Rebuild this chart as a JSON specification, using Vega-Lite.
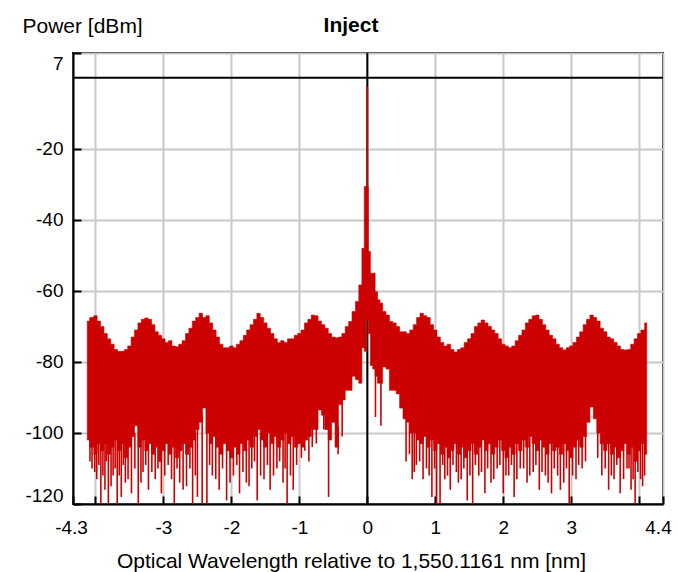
{
  "$schema": "https://vega.github.io/schema/vega-lite/v6.json",
  "width": 590,
  "height": 451,
  "autosize": "none",
  "padding": {"left": 73, "top": 53, "right": 16, "bottom": 68},
  "background": "white",
  "title": {
    "text": "Inject",
    "font": "Liberation Sans",
    "fontSize": 21,
    "fontWeight": "bold",
    "color": "black",
    "anchor": "middle",
    "frame": "group",
    "dx": -17,
    "baseline": "alphabetic",
    "offset": -38
  },
  "config": {
    "view": {"stroke": "black", "strokeWidth": 2},
    "font": "Liberation Sans",
    "axis": {
      "domainColor": "black",
      "domainWidth": 2,
      "tickColor": "black",
      "tickWidth": 2,
      "tickSize": -8,
      "gridColor": "#c8c8c8",
      "gridWidth": 2,
      "labelColor": "black",
      "labelFontSize": 19,
      "labelOverlap": false,
      "labelFlush": false,
      "labelBound": false,
      "titleColor": "black",
      "titleFontSize": 21,
      "titleFontWeight": "normal"
    }
  },
  "datasets": {
    "body": [
      {"x": -4.12, "hi": -68.5, "lo": -102},
      {"x": -4.05, "hi": -67.5, "lo": -104},
      {"x": -4.00, "hi": -67.0, "lo": -106},
      {"x": -3.95, "hi": -68.5, "lo": -103},
      {"x": -3.90, "hi": -70.0, "lo": -105},
      {"x": -3.85, "hi": -72.0, "lo": -103},
      {"x": -3.80, "hi": -73.5, "lo": -106},
      {"x": -3.75, "hi": -75.0, "lo": -104},
      {"x": -3.70, "hi": -76.5, "lo": -102},
      {"x": -3.65, "hi": -77.0, "lo": -105},
      {"x": -3.60, "hi": -77.0, "lo": -103},
      {"x": -3.55, "hi": -76.5, "lo": -107},
      {"x": -3.50, "hi": -75.5, "lo": -104},
      {"x": -3.45, "hi": -73.0, "lo": -101},
      {"x": -3.40, "hi": -71.0, "lo": -98},
      {"x": -3.35, "hi": -69.0, "lo": -104},
      {"x": -3.30, "hi": -68.0, "lo": -102},
      {"x": -3.25, "hi": -67.6, "lo": -105},
      {"x": -3.20, "hi": -68.0, "lo": -103},
      {"x": -3.15, "hi": -69.5, "lo": -106},
      {"x": -3.10, "hi": -71.5, "lo": -104},
      {"x": -3.05, "hi": -72.5, "lo": -108},
      {"x": -3.00, "hi": -73.5, "lo": -105},
      {"x": -2.95, "hi": -74.5, "lo": -103},
      {"x": -2.90, "hi": -74.0, "lo": -106},
      {"x": -2.85, "hi": -75.5, "lo": -104},
      {"x": -2.80, "hi": -75.7, "lo": -107},
      {"x": -2.75, "hi": -75.0, "lo": -105},
      {"x": -2.70, "hi": -74.0, "lo": -103},
      {"x": -2.65, "hi": -72.0, "lo": -106},
      {"x": -2.60, "hi": -70.5, "lo": -104},
      {"x": -2.55, "hi": -68.5, "lo": -102},
      {"x": -2.50, "hi": -67.5, "lo": -99},
      {"x": -2.45, "hi": -66.3, "lo": -97},
      {"x": -2.40, "hi": -67.5, "lo": -93},
      {"x": -2.35, "hi": -67.0, "lo": -100},
      {"x": -2.30, "hi": -69.0, "lo": -103},
      {"x": -2.25, "hi": -71.0, "lo": -101},
      {"x": -2.20, "hi": -73.0, "lo": -104},
      {"x": -2.15, "hi": -75.0, "lo": -106},
      {"x": -2.10, "hi": -76.0, "lo": -103},
      {"x": -2.05, "hi": -76.0, "lo": -105},
      {"x": -2.00, "hi": -75.5, "lo": -107},
      {"x": -1.95, "hi": -76.0, "lo": -104},
      {"x": -1.90, "hi": -75.0, "lo": -106},
      {"x": -1.85, "hi": -74.0, "lo": -103},
      {"x": -1.80, "hi": -72.5, "lo": -105},
      {"x": -1.75, "hi": -71.0, "lo": -102},
      {"x": -1.70, "hi": -69.5, "lo": -104},
      {"x": -1.65, "hi": -68.0, "lo": -101},
      {"x": -1.60, "hi": -66.3, "lo": -99},
      {"x": -1.55, "hi": -67.5, "lo": -102},
      {"x": -1.50, "hi": -69.0, "lo": -104},
      {"x": -1.45, "hi": -70.5, "lo": -100},
      {"x": -1.40, "hi": -72.0, "lo": -103},
      {"x": -1.35, "hi": -73.5, "lo": -101},
      {"x": -1.30, "hi": -74.5, "lo": -104},
      {"x": -1.25, "hi": -74.0, "lo": -102},
      {"x": -1.20, "hi": -74.5, "lo": -100},
      {"x": -1.15, "hi": -73.5, "lo": -103},
      {"x": -1.10, "hi": -73.5, "lo": -101},
      {"x": -1.05, "hi": -72.5, "lo": -104},
      {"x": -1.00, "hi": -72.0, "lo": -103},
      {"x": -0.95, "hi": -71.0, "lo": -104},
      {"x": -0.90, "hi": -69.0, "lo": -102},
      {"x": -0.85, "hi": -68.0, "lo": -101},
      {"x": -0.80, "hi": -66.8, "lo": -99},
      {"x": -0.75, "hi": -67.0, "lo": -99},
      {"x": -0.70, "hi": -68.5, "lo": -93.5},
      {"x": -0.65, "hi": -69.5, "lo": -95},
      {"x": -0.60, "hi": -70.5, "lo": -99},
      {"x": -0.55, "hi": -72.0, "lo": -102},
      {"x": -0.50, "hi": -73.0, "lo": -97},
      {"x": -0.45, "hi": -73.2, "lo": -104},
      {"x": -0.40, "hi": -73.0, "lo": -92},
      {"x": -0.35, "hi": -72.0, "lo": -90.7},
      {"x": -0.30, "hi": -70.0, "lo": -88},
      {"x": -0.25, "hi": -68.6, "lo": -88},
      {"x": -0.20, "hi": -65.8, "lo": -84},
      {"x": -0.15, "hi": -63.0, "lo": -85},
      {"x": -0.10, "hi": -58.3, "lo": -86},
      {"x": -0.06, "hi": -48.0, "lo": -76},
      {"x": -0.03, "hi": -30.6, "lo": -77},
      {"x": 0.00, "hi": -30.6, "lo": -68},
      {"x": 0.03, "hi": -48.9, "lo": -72},
      {"x": 0.06, "hi": -55.0, "lo": -81},
      {"x": 0.10, "hi": -55.0, "lo": -82},
      {"x": 0.13, "hi": -60.2, "lo": -84},
      {"x": 0.17, "hi": -62.5, "lo": -86},
      {"x": 0.20, "hi": -63.4, "lo": -86},
      {"x": 0.25, "hi": -65.8, "lo": -81.4},
      {"x": 0.30, "hi": -66.8, "lo": -82},
      {"x": 0.35, "hi": -68.6, "lo": -88},
      {"x": 0.40, "hi": -69.0, "lo": -88},
      {"x": 0.45, "hi": -70.0, "lo": -89},
      {"x": 0.50, "hi": -71.5, "lo": -93},
      {"x": 0.55, "hi": -71.5, "lo": -96},
      {"x": 0.60, "hi": -72.0, "lo": -97},
      {"x": 0.65, "hi": -71.0, "lo": -100},
      {"x": 0.70, "hi": -69.5, "lo": -100},
      {"x": 0.75, "hi": -67.5, "lo": -102},
      {"x": 0.80, "hi": -66.3, "lo": -103},
      {"x": 0.85, "hi": -67.0, "lo": -101},
      {"x": 0.90, "hi": -67.5, "lo": -104},
      {"x": 0.95, "hi": -69.5, "lo": -102},
      {"x": 1.00, "hi": -71.0, "lo": -105},
      {"x": 1.05, "hi": -73.0, "lo": -103},
      {"x": 1.10, "hi": -74.5, "lo": -106},
      {"x": 1.15, "hi": -75.5, "lo": -104},
      {"x": 1.20, "hi": -75.0, "lo": -107},
      {"x": 1.25, "hi": -76.5, "lo": -105},
      {"x": 1.30, "hi": -77.2, "lo": -103},
      {"x": 1.35, "hi": -76.5, "lo": -106},
      {"x": 1.40, "hi": -76.0, "lo": -104},
      {"x": 1.45, "hi": -74.5, "lo": -107},
      {"x": 1.50, "hi": -73.5, "lo": -105},
      {"x": 1.55, "hi": -72.0, "lo": -103},
      {"x": 1.60, "hi": -70.0, "lo": -106},
      {"x": 1.65, "hi": -69.0, "lo": -104},
      {"x": 1.70, "hi": -68.2, "lo": -102},
      {"x": 1.75, "hi": -69.0, "lo": -105},
      {"x": 1.80, "hi": -70.0, "lo": -103},
      {"x": 1.85, "hi": -71.0, "lo": -106},
      {"x": 1.90, "hi": -72.0, "lo": -104},
      {"x": 1.95, "hi": -73.5, "lo": -102},
      {"x": 2.00, "hi": -75.0, "lo": -105},
      {"x": 2.05, "hi": -75.5, "lo": -107},
      {"x": 2.10, "hi": -76.0, "lo": -104},
      {"x": 2.15, "hi": -75.5, "lo": -106},
      {"x": 2.20, "hi": -74.0, "lo": -103},
      {"x": 2.25, "hi": -72.5, "lo": -105},
      {"x": 2.30, "hi": -71.0, "lo": -102},
      {"x": 2.35, "hi": -69.0, "lo": -104},
      {"x": 2.40, "hi": -68.0, "lo": -101},
      {"x": 2.45, "hi": -67.0, "lo": -103},
      {"x": 2.50, "hi": -66.8, "lo": -105},
      {"x": 2.55, "hi": -68.0, "lo": -102},
      {"x": 2.60, "hi": -69.5, "lo": -104},
      {"x": 2.65, "hi": -71.0, "lo": -106},
      {"x": 2.70, "hi": -72.5, "lo": -103},
      {"x": 2.75, "hi": -73.5, "lo": -105},
      {"x": 2.80, "hi": -75.0, "lo": -104},
      {"x": 2.85, "hi": -76.0, "lo": -106},
      {"x": 2.90, "hi": -76.6, "lo": -103},
      {"x": 2.95, "hi": -76.0, "lo": -105},
      {"x": 3.00, "hi": -75.5, "lo": -107},
      {"x": 3.05, "hi": -74.5, "lo": -104},
      {"x": 3.10, "hi": -73.0, "lo": -102},
      {"x": 3.15, "hi": -71.5, "lo": -104},
      {"x": 3.20, "hi": -69.5, "lo": -101},
      {"x": 3.25, "hi": -68.0, "lo": -97},
      {"x": 3.30, "hi": -66.8, "lo": -92.7},
      {"x": 3.35, "hi": -67.5, "lo": -96},
      {"x": 3.40, "hi": -68.5, "lo": -100},
      {"x": 3.45, "hi": -70.5, "lo": -103},
      {"x": 3.50, "hi": -71.5, "lo": -105},
      {"x": 3.55, "hi": -73.0, "lo": -103},
      {"x": 3.60, "hi": -73.5, "lo": -106},
      {"x": 3.65, "hi": -74.5, "lo": -104},
      {"x": 3.70, "hi": -75.5, "lo": -107},
      {"x": 3.75, "hi": -76.5, "lo": -105},
      {"x": 3.80, "hi": -76.6, "lo": -103},
      {"x": 3.85, "hi": -76.5, "lo": -106},
      {"x": 3.90, "hi": -75.0, "lo": -104},
      {"x": 3.95, "hi": -73.5, "lo": -108},
      {"x": 4.00, "hi": -72.0, "lo": -105},
      {"x": 4.05, "hi": -71.0, "lo": -103},
      {"x": 4.11, "hi": -69.0, "lo": -106}
    ],
    "spikes": [
      {"x": -4.08, "hi": -100, "lo": -108},
      {"x": -4.05, "hi": -98, "lo": -110},
      {"x": -4.01, "hi": -100, "lo": -111},
      {"x": -3.98, "hi": -98, "lo": -113},
      {"x": -3.95, "hi": -100, "lo": -109},
      {"x": -3.92, "hi": -98, "lo": -120},
      {"x": -3.89, "hi": -100, "lo": -112},
      {"x": -3.86, "hi": -98, "lo": -116},
      {"x": -3.84, "hi": -100, "lo": -108},
      {"x": -3.81, "hi": -98, "lo": -120},
      {"x": -3.77, "hi": -100, "lo": -115},
      {"x": -3.74, "hi": -98, "lo": -112},
      {"x": -3.71, "hi": -100, "lo": -110},
      {"x": -3.68, "hi": -98, "lo": -120},
      {"x": -3.65, "hi": -100, "lo": -112},
      {"x": -3.62, "hi": -98, "lo": -118},
      {"x": -3.59, "hi": -100, "lo": -109},
      {"x": -3.56, "hi": -98, "lo": -114},
      {"x": -3.52, "hi": -100, "lo": -113},
      {"x": -3.47, "hi": -98, "lo": -117},
      {"x": -3.42, "hi": -100, "lo": -110},
      {"x": -3.37, "hi": -98, "lo": -120},
      {"x": -3.33, "hi": -100, "lo": -114},
      {"x": -3.30, "hi": -98, "lo": -111},
      {"x": -3.26, "hi": -100, "lo": -109},
      {"x": -3.22, "hi": -98, "lo": -116},
      {"x": -3.17, "hi": -100, "lo": -111},
      {"x": -3.12, "hi": -98, "lo": -113},
      {"x": -3.08, "hi": -100, "lo": -110},
      {"x": -3.03, "hi": -98, "lo": -117},
      {"x": -2.98, "hi": -100, "lo": -112},
      {"x": -2.93, "hi": -98, "lo": -109},
      {"x": -2.88, "hi": -100, "lo": -113},
      {"x": -2.84, "hi": -98, "lo": -120},
      {"x": -2.80, "hi": -100, "lo": -110},
      {"x": -2.76, "hi": -98, "lo": -114},
      {"x": -2.71, "hi": -100, "lo": -116},
      {"x": -2.66, "hi": -98, "lo": -115},
      {"x": -2.61, "hi": -100, "lo": -110},
      {"x": -2.57, "hi": -98, "lo": -120},
      {"x": -2.53, "hi": -100, "lo": -112},
      {"x": -2.50, "hi": -98, "lo": -118},
      {"x": -2.43, "hi": -95, "lo": -120},
      {"x": -2.36, "hi": -98, "lo": -120},
      {"x": -2.32, "hi": -100, "lo": -109},
      {"x": -2.28, "hi": -98, "lo": -112},
      {"x": -2.23, "hi": -100, "lo": -113},
      {"x": -2.18, "hi": -98, "lo": -116},
      {"x": -2.13, "hi": -100, "lo": -110},
      {"x": -2.07, "hi": -98, "lo": -119},
      {"x": -2.02, "hi": -100, "lo": -114},
      {"x": -1.97, "hi": -98, "lo": -112},
      {"x": -1.92, "hi": -100, "lo": -109},
      {"x": -1.88, "hi": -98, "lo": -117},
      {"x": -1.83, "hi": -100, "lo": -111},
      {"x": -1.78, "hi": -98, "lo": -114},
      {"x": -1.74, "hi": -100, "lo": -115},
      {"x": -1.70, "hi": -98, "lo": -110},
      {"x": -1.66, "hi": -100, "lo": -108},
      {"x": -1.62, "hi": -98, "lo": -119},
      {"x": -1.57, "hi": -100, "lo": -112},
      {"x": -1.52, "hi": -98, "lo": -113},
      {"x": -1.47, "hi": -100, "lo": -109},
      {"x": -1.43, "hi": -98, "lo": -116},
      {"x": -1.38, "hi": -100, "lo": -112},
      {"x": -1.33, "hi": -98, "lo": -110},
      {"x": -1.29, "hi": -100, "lo": -108},
      {"x": -1.24, "hi": -98, "lo": -114},
      {"x": -1.21, "hi": -100, "lo": -110},
      {"x": -1.18, "hi": -98, "lo": -120},
      {"x": -1.13, "hi": -100, "lo": -112},
      {"x": -1.09, "hi": -98, "lo": -116},
      {"x": -1.04, "hi": -100, "lo": -109},
      {"x": -0.97, "hi": -98, "lo": -107},
      {"x": -0.92, "hi": -100, "lo": -105},
      {"x": -0.86, "hi": -98, "lo": -108},
      {"x": -0.81, "hi": -98, "lo": -104},
      {"x": -0.75, "hi": -98, "lo": -103},
      {"x": -0.64, "hi": -94, "lo": -99},
      {"x": -0.57, "hi": -98, "lo": -118},
      {"x": -0.43, "hi": -98, "lo": -106},
      {"x": -0.37, "hi": -90, "lo": -101},
      {"x": 0.12, "hi": -82, "lo": -95.5},
      {"x": 0.20, "hi": -85, "lo": -98},
      {"x": 0.57, "hi": -95, "lo": -108},
      {"x": 0.62, "hi": -97, "lo": -106},
      {"x": 0.66, "hi": -98, "lo": -113},
      {"x": 0.69, "hi": -100, "lo": -111},
      {"x": 0.72, "hi": -98, "lo": -109},
      {"x": 0.77, "hi": -100, "lo": -108},
      {"x": 0.82, "hi": -98, "lo": -113},
      {"x": 0.87, "hi": -100, "lo": -110},
      {"x": 0.91, "hi": -100, "lo": -112},
      {"x": 0.95, "hi": -98, "lo": -118},
      {"x": 0.99, "hi": -100, "lo": -110},
      {"x": 1.02, "hi": -98, "lo": -120},
      {"x": 1.07, "hi": -98, "lo": -120},
      {"x": 1.11, "hi": -100, "lo": -109},
      {"x": 1.14, "hi": -98, "lo": -113},
      {"x": 1.18, "hi": -100, "lo": -112},
      {"x": 1.22, "hi": -98, "lo": -116},
      {"x": 1.26, "hi": -100, "lo": -109},
      {"x": 1.31, "hi": -98, "lo": -111},
      {"x": 1.34, "hi": -100, "lo": -114},
      {"x": 1.38, "hi": -98, "lo": -113},
      {"x": 1.42, "hi": -100, "lo": -110},
      {"x": 1.47, "hi": -98, "lo": -119},
      {"x": 1.51, "hi": -100, "lo": -112},
      {"x": 1.55, "hi": -98, "lo": -120},
      {"x": 1.59, "hi": -100, "lo": -109},
      {"x": 1.64, "hi": -98, "lo": -112},
      {"x": 1.68, "hi": -100, "lo": -111},
      {"x": 1.73, "hi": -98, "lo": -117},
      {"x": 1.77, "hi": -100, "lo": -110},
      {"x": 1.82, "hi": -98, "lo": -114},
      {"x": 1.86, "hi": -100, "lo": -113},
      {"x": 1.91, "hi": -98, "lo": -110},
      {"x": 1.95, "hi": -100, "lo": -109},
      {"x": 2.00, "hi": -98, "lo": -117},
      {"x": 2.04, "hi": -100, "lo": -112},
      {"x": 2.08, "hi": -98, "lo": -112},
      {"x": 2.12, "hi": -100, "lo": -109},
      {"x": 2.16, "hi": -98, "lo": -118},
      {"x": 2.20, "hi": -100, "lo": -113},
      {"x": 2.25, "hi": -98, "lo": -110},
      {"x": 2.30, "hi": -100, "lo": -110},
      {"x": 2.35, "hi": -98, "lo": -114},
      {"x": 2.39, "hi": -100, "lo": -112},
      {"x": 2.44, "hi": -98, "lo": -111},
      {"x": 2.48, "hi": -100, "lo": -109},
      {"x": 2.53, "hi": -98, "lo": -116},
      {"x": 2.57, "hi": -100, "lo": -111},
      {"x": 2.62, "hi": -98, "lo": -112},
      {"x": 2.66, "hi": -100, "lo": -114},
      {"x": 2.71, "hi": -98, "lo": -117},
      {"x": 2.75, "hi": -100, "lo": -110},
      {"x": 2.80, "hi": -98, "lo": -112},
      {"x": 2.84, "hi": -100, "lo": -116},
      {"x": 2.89, "hi": -98, "lo": -114},
      {"x": 2.93, "hi": -100, "lo": -110},
      {"x": 2.97, "hi": -98, "lo": -120},
      {"x": 3.02, "hi": -100, "lo": -112},
      {"x": 3.07, "hi": -98, "lo": -113},
      {"x": 3.11, "hi": -100, "lo": -109},
      {"x": 3.16, "hi": -98, "lo": -110},
      {"x": 3.21, "hi": -100, "lo": -108},
      {"x": 3.39, "hi": -100, "lo": -107},
      {"x": 3.45, "hi": -98, "lo": -112},
      {"x": 3.50, "hi": -100, "lo": -110},
      {"x": 3.55, "hi": -98, "lo": -116},
      {"x": 3.59, "hi": -100, "lo": -112},
      {"x": 3.63, "hi": -98, "lo": -113},
      {"x": 3.67, "hi": -100, "lo": -109},
      {"x": 3.72, "hi": -98, "lo": -117},
      {"x": 3.77, "hi": -100, "lo": -113},
      {"x": 3.82, "hi": -98, "lo": -110},
      {"x": 3.85, "hi": -100, "lo": -110},
      {"x": 3.88, "hi": -98, "lo": -116},
      {"x": 3.91, "hi": -100, "lo": -113},
      {"x": 3.94, "hi": -98, "lo": -120},
      {"x": 3.98, "hi": -100, "lo": -111},
      {"x": 4.02, "hi": -98, "lo": -113},
      {"x": 4.05, "hi": -100, "lo": -115},
      {"x": 4.08, "hi": -98, "lo": -112}
    ],
    "peak": [
      {"x": 0.0, "hi": -2.5, "lo": -31}
    ]
  },
  "layer": [
    {
      "data": {"values": [{"hi": 0}]},
      "mark": {"type": "rule", "color": "black", "strokeWidth": 2},
      "encoding": {
        "y": {"field": "hi", "type": "quantitative", "scale": {"domain": [-120, 7], "nice": false, "zero": false}}
      }
    },
    {
      "data": {"values": [{"x": 0}]},
      "mark": {"type": "rule", "color": "black", "strokeWidth": 2},
      "encoding": {
        "x": {"field": "x", "type": "quantitative", "scale": {"domain": [-4.33, 4.35], "nice": false, "zero": false}}
      }
    },
    {
      "data": {"name": "body"},
      "mark": {"type": "area", "color": "#cc0000", "interpolate": "step", "opacity": 1, "stroke": "#cc0000", "strokeWidth": 0.6},
      "encoding": {
        "x": {
          "field": "x",
          "type": "quantitative",
          "scale": {"domain": [-4.33, 4.35], "nice": false, "zero": false},
          "axis": {
            "values": [-4.33, -4, -3, -2, -1, 0, 1, 2, 3, 4, 4.35],
            "labelExpr": "datum.value < -4.2 ? '-4.3' : datum.value > 4.2 ? '4.4' : (abs(datum.value) == 4 ? '' : '' + datum.value)",
            "labelPadding": 22,
            "labelOffset": {"condition": [{"test": "datum.value < -4.2", "value": -2}, {"test": "datum.value > 4.2", "value": -5}], "value": 0},
            "title": "Optical Wavelength relative to 1,550.1161 nm [nm]",
            "titleX": 278,
            "titleY": 63,
            "titleAlign": "center",
            "titleBaseline": "alphabetic"
          }
        },
        "y": {
          "field": "hi",
          "type": "quantitative",
          "scale": {"domain": [-120, 7], "nice": false, "zero": false},
          "axis": {
            "values": [-120, -100, -80, -60, -40, -20, 7],
            "labelExpr": "'' + datum.value",
            "labelPadding": 18,
            "labelOffset": {"condition": [{"test": "datum.value == 7", "value": 10}, {"test": "datum.value == -120", "value": -9}], "value": 0},
            "title": "Power [dBm]",
            "titleAngle": 0,
            "titleX": -51,
            "titleY": -21,
            "titleAlign": "left",
            "titleBaseline": "alphabetic"
          }
        },
        "y2": {"field": "lo"}
      }
    },
    {
      "data": {"name": "spikes"},
      "mark": {"type": "rule", "color": "#cc0000", "strokeWidth": 1.6},
      "encoding": {
        "x": {"field": "x", "type": "quantitative", "scale": {"domain": [-4.33, 4.35], "nice": false, "zero": false}},
        "y": {"field": "hi", "type": "quantitative", "scale": {"domain": [-120, 7], "nice": false, "zero": false}},
        "y2": {"field": "lo"}
      }
    },
    {
      "data": {"name": "peak"},
      "mark": {"type": "rule", "color": "#cc0000", "strokeWidth": 1.6},
      "encoding": {
        "x": {"field": "x", "type": "quantitative", "scale": {"domain": [-4.33, 4.35], "nice": false, "zero": false}},
        "y": {"field": "hi", "type": "quantitative", "scale": {"domain": [-120, 7], "nice": false, "zero": false}},
        "y2": {"field": "lo"}
      }
    }
  ]
}
